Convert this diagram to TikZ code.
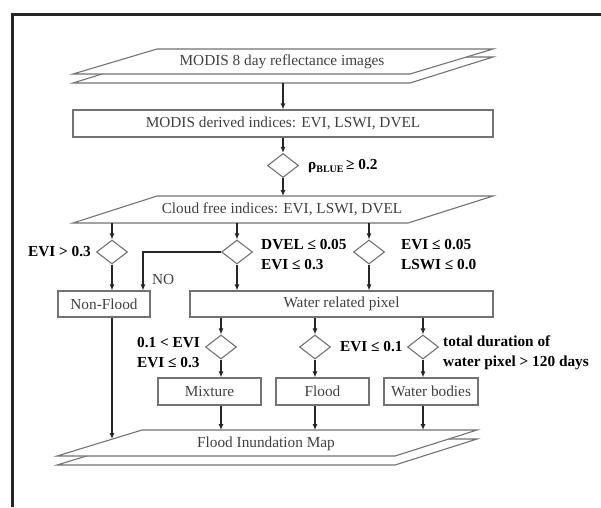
\documentclass[tikz,border=0pt]{standalone}
\usepackage{fontspec}
\setmainfont{Liberation Serif}
\usetikzlibrary{arrows.meta,shapes.geometric}
\begin{document}
\begin{tikzpicture}[x=1pt,y=-1pt,
  font=\fontsize{15.3}{20}\selectfont,
  box/.style={draw=black!55,line width=1.1pt,fill=white,inner sep=0pt,minimum height=26pt,text=black!75},
  dia/.style={draw=black!55,line width=1.1pt,shape=diamond,inner sep=0pt,minimum width=31pt,minimum height=24pt},
  arr/.style={-{Latex[length=6pt,width=5pt]},line width=1.1pt,draw=black!85},
  lbl/.style={font=\fontsize{15.3}{20}\selectfont\bfseries,inner sep=0pt,text=black,align=left},
  para/.style={draw=black!55,line width=1.1pt,fill=white,line join=miter},
  ptext/.style={inner sep=0pt,text=black!75}
]
\useasboundingbox (0,0) rectangle (601,507);
\fill[white] (0,0) rectangle (601,507);
% frame
\draw[line width=3pt,black!85,line join=miter] (601,14) -- (12,14) -- (12,507);

% top parallelogram (double)
\draw[para] (157,57) -- (493,57) -- (410,83) -- (73,83) -- cycle;
\draw[para] (157,49) -- (493,49) -- (410,74) -- (73,74) -- cycle;
\node[ptext] (p1) at (282,62) {MODIS 8 day reflectance images};
\coordinate (p1out) at (283,83);

\node[box,minimum width=420pt,minimum height=27pt] (b2) at (283,123.5) {MODIS derived indices: EVI, LSWI, DVEL};
\draw[arr] (p1out) -- (b2.north);

\node[dia] (d0) at (283,165.5) {};
\node[lbl,anchor=west] (rho) at (308,166) {ρ\raisebox{-0.4ex}{\fontsize{10}{10}\selectfont BLUE}\,≥ 0.2};
\draw[arr] (b2.south) -- (d0.north);
\coordinate (p2top) at (283,196);
\draw[arr] (d0.south) -- (p2top);

% cloud free parallelogram
\draw[para] (157,196) -- (493,196) -- (408,223) -- (73,223) -- cycle;
\node[ptext] (p2) at (282,209.5) {Cloud free indices: EVI, LSWI, DVEL};
\coordinate (p2bot) at (283,223);

% row 1 diamonds
\node[dia] (dL) at (112,252) {};
\node[dia] (dM) at (237,252) {};
\node[dia] (dR) at (369,252) {};
\draw[arr] (dL |- p2bot) -- (dL.north);
\draw[arr] (dM |- p2bot) -- (dM.north);
\draw[arr] (dR |- p2bot) -- (dR.north);

\node[lbl,anchor=east] (lL) at (91,252) {EVI > 0.3};
\node[lbl,anchor=west] (lM) at (261,255) {DVEL ≤ 0.05\\EVI ≤ 0.3};
\node[lbl,anchor=west] (lR) at (401,255) {EVI ≤ 0.05\\LSWI ≤ 0.0};

% row 1 boxes
\node[box,minimum width=92pt] (nf) at (104,304) {Non-Flood};
\node[box,minimum width=303pt] (wr) at (341.5,304) {Water related pixel};
\draw[arr] (dL.south) -- (dL |- nf.north);
\draw[arr] (dM.south) -- (dM |- wr.north);
\draw[arr] (dR.south) -- (dR |- wr.north);
\coordinate (nocorner) at (143,252);
\draw[arr] (dM.west) -- (nocorner) -- (nocorner |- nf.north);
\node[ptext,anchor=west] (no) at (152,280) {NO};

% row 2 diamonds
\node[dia] (dA) at (221,347) {};
\node[dia] (dB) at (315,347) {};
\node[dia] (dC) at (423,347) {};
\draw[arr] (dA |- wr.south) -- (dA.north);
\draw[arr] (dB |- wr.south) -- (dB.north);
\draw[arr] (dC |- wr.south) -- (dC.north);

\node[lbl,anchor=west] (lA) at (137,353) {0.1 < EVI\\EVI ≤ 0.3};
\node[lbl,anchor=west] (lB) at (340,347) {EVI ≤ 0.1};
\node[lbl,anchor=west] (lC) at (443,353) {total duration of\\water pixel > 120 days};

% row 2 boxes
\node[box,minimum width=103pt,minimum height=27pt] (mx) at (209.5,391.5) {Mixture};
\node[box,minimum width=93pt,minimum height=27pt] (fl) at (322.5,391.5) {Flood};
\node[box,minimum width=94pt,minimum height=27pt] (wb) at (431,391.5) {Water bodies};
\draw[arr] (dA.south) -- (dA |- mx.north);
\draw[arr] (dB.south) -- (dB |- fl.north);
\draw[arr] (dC.south) -- (dC |- wb.north);

% flood inundation map (double)
\draw[para] (142,439) -- (477,439) -- (395,465) -- (57,465) -- cycle;
\draw[para] (142,430) -- (477,430) -- (395,456) -- (57,456) -- cycle;
\node[ptext] (p3) at (266,444) {Flood Inundation Map};
\coordinate (p3top) at (0,430);
\draw[arr] (dA |- mx.south) -- (dA |- p3top);
\draw[arr] (dB |- fl.south) -- (dB |- p3top);
\draw[arr] (dC |- wb.south) -- (dC |- p3top);
\coordinate (nfend) at (112,439);
\draw[arr] (dL |- nf.south) -- (nfend);
\end{tikzpicture}
\end{document}
